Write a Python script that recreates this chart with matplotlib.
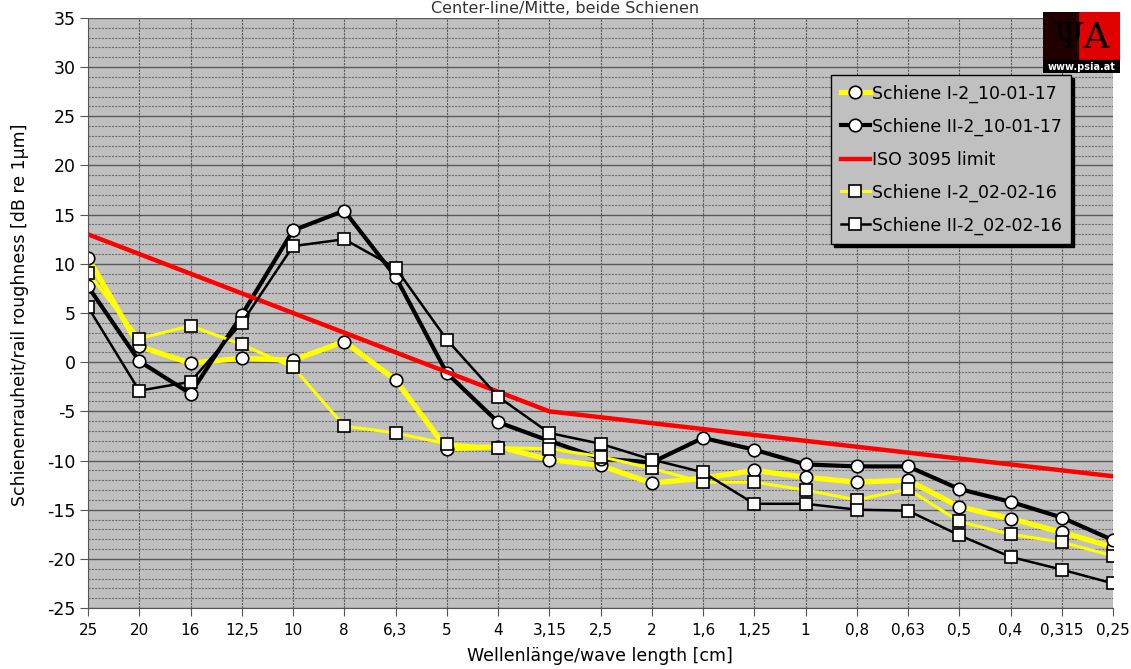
import numpy as np
import matplotlib.pyplot as plt
from matplotlib.patches import Rectangle

plt.rcParams['axes.unicode_minus'] = False

# wave length categories (cm)
wavelengths = ['25', '20', '16', '12,5', '10', '8', '6,3', '5', '4', '3,15', '2,5',
               '2', '1,6', '1,25', '1', '0,8', '0,63', '0,5', '0,4', '0,315', '0,25']

# roughness levels in dB re 1um
s1_10_01_17 = [10.6, 1.6, -0.1, 0.4, 0.2, 2.1, -1.8, -8.8, -8.6, -9.9, -10.5,
               -12.3, -11.8, -11.0, -11.7, -12.2, -12.0, -14.7, -15.9, -17.3, -18.8]
s2_10_01_17 = [7.7, 0.1, -3.2, 4.8, 13.4, 15.4, 8.7, -1.1, -6.1, -8.0, -9.8,
               -10.2, -7.7, -8.9, -10.4, -10.6, -10.6, -12.9, -14.2, -15.8, -18.1]
iso_limit = [13.0, 11.0, 9.0, 7.0, 5.0, 3.0, 1.0, -1.0, -3.0, -5.0, -5.6,
             -6.2, -6.8, -7.4, -8.0, -8.6, -9.2, -9.8, -10.4, -11.0, -11.6]
s1_02_02_16 = [9.1, 2.4, 3.7, 1.8, -0.5, -6.5, -7.2, -8.3, -8.7, -8.8, -9.6,
               -10.8, -12.2, -12.2, -13.0, -14.0, -12.9, -16.2, -17.5, -18.3, -19.7]
s2_02_02_16 = [5.6, -2.9, -2.0, 4.0, 11.8, 12.5, 9.6, 2.3, -3.5, -7.2, -8.3,
               -9.9, -11.2, -14.4, -14.4, -15.0, -15.1, -17.6, -19.8, -21.1, -22.5]

x = np.arange(len(wavelengths))

fig = plt.figure(figsize=(11.31, 6.69), dpi=100)
ax = fig.add_axes([88/1131, 1 - 608/669, (1113-88)/1131, (608-18)/669])
ax.set_facecolor('#c0c0c0')

# grid: minor every 1 dB, major every 5 dB, vertical at each category
ax.set_yticks(np.arange(-25, 36, 5))
ax.set_yticks(np.arange(-25, 36, 1), minor=True)
ax.set_xticks(x)
ax.grid(which='minor', axis='y', color='#707070', lw=0.8, ls=(0, (2, 1)))
ax.grid(which='major', axis='y', color='#5a5a5a', lw=1.0)
ax.grid(which='major', axis='x', color='#5a5a5a', lw=0.8, ls=(0, (2, 1)))
ax.set_axisbelow(True)

mk = dict(markerfacecolor='white', markeredgecolor='black', markeredgewidth=1.2)
ax.plot(x, s1_10_01_17, color='#ffff00', lw=3.8, marker='o', ms=9, label='Schiene I-2_10-01-17', **mk)
ax.plot(x, s2_10_01_17, color='black', lw=3.0, marker='o', ms=9, label='Schiene II-2_10-01-17', **mk)
ax.plot(x, iso_limit, color='#ff0000', lw=3.2, label='ISO 3095 limit')
ax.plot(x, s1_02_02_16, color='#ffff00', lw=2.2, marker='s', ms=9, label='Schiene I-2_02-02-16', **mk)
ax.plot(x, s2_02_02_16, color='black', lw=1.8, marker='s', ms=9, label='Schiene II-2_02-02-16', **mk)

ax.set_xlim(0, len(wavelengths) - 1)
ax.set_ylim(-25, 35)
ax.set_xticklabels(wavelengths)

for lab in ax.get_yticklabels():
    lab.set_fontsize(12.5)
for lab in ax.get_xticklabels():
    lab.set_fontsize(11)
ax.tick_params(axis='y', which='minor', length=0)
ax.tick_params(axis='y', which='major', length=6, color='#555555', pad=3)
ax.tick_params(axis='x', length=6, color='#555555', pad=5)

for side in ['top', 'right']:
    ax.spines[side].set_visible(False)
ax.spines['left'].set_color('#555555')
ax.spines['bottom'].set_color('#555555')

fig.text(20/1131, 1 - 315/669, 'Schienenrauheit/rail roughness [dB re 1µm]', rotation=90,
         ha='center', va='center', fontsize=12.5)
fig.text(600/1131, 1 - 656/669, 'Wellenlänge/wave length [cm]', ha='center', va='center', fontsize=12.5)
fig.text(565/1131, 1 - 1/669, 'Center-line/Mitte, beide Schienen', ha='center', va='top',
         fontsize=11.5, color='#333333')

leg = fig.legend(loc='upper left', bbox_to_anchor=(831/1131, 1 - 75/669), fontsize=12.5,
                 facecolor='#c0c0c0', edgecolor='black', framealpha=1, fancybox=False,
                 shadow={'color': 'black', 'alpha': 1}, handlelength=1.7, handletextpad=0.1,
                 labelspacing=0.85, borderpad=0.55, borderaxespad=0)
leg.get_frame().set_linewidth(1.0)

# logo in the top right corner
lax = fig.add_axes([1043/1131, 1 - 73/669, 77/1131, 61/669])
lax.set_xlim(0, 1)
lax.set_ylim(0, 1)
lax.axis('off')
lax.add_patch(Rectangle((0, 0.2), 1, 0.8, color='#e00000'))
lax.add_patch(Rectangle((0, 0.2), 0.45, 0.8, color='#200000'))
lax.add_patch(Rectangle((0, 0), 1, 0.22, color='black'))
lax.text(0.5, 0.58, 'ΨA', ha='center', va='center', fontsize=26, color='black', family='DejaVu Serif')
lax.text(0.5, 0.1, 'www.psia.at', ha='center', va='center', fontsize=7, color='white', weight='bold')

fig.savefig('out.png', dpi=100)
